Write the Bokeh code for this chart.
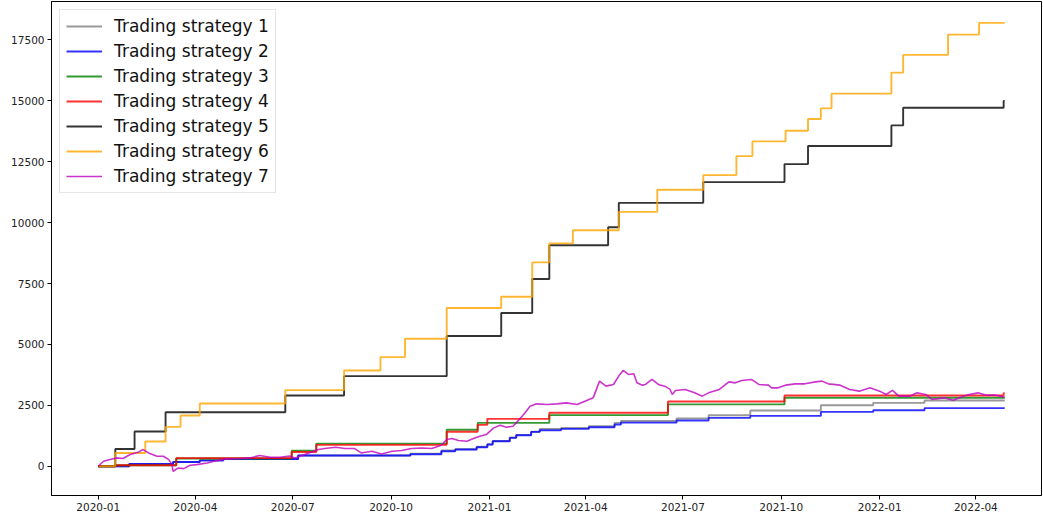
from datetime import datetime
import pandas as pd
from bokeh.plotting import figure
from bokeh.models import Range1d, FixedTicker, DatetimeTickFormatter, BasicTickFormatter
from bokeh.embed import file_html
from bokeh.resources import INLINE

labels = ["Trading strategy 1", "Trading strategy 2", "Trading strategy 3", "Trading strategy 4",
          "Trading strategy 5", "Trading strategy 6", "Trading strategy 7"]
colors = ["grey", "blue", "green", "red", "black", "orange", "#bf00bf"]

# Strategy 1 (grey), step series
s1_dates = ["2020-01-01", "2020-01-30", "2020-03-11", "2020-04-05", "2020-04-27", "2020-07-06", "2020-10-19",
            "2020-11-17", "2020-11-30", "2020-12-20", "2020-12-30", "2021-01-04", "2021-01-20", "2021-01-26",
            "2021-02-09", "2021-02-17", "2021-03-09", "2021-04-04", "2021-04-28", "2021-05-04", "2021-06-25",
            "2021-07-25", "2021-09-02", "2021-11-07", "2021-12-26", "2022-02-12", "2022-04-28"]
s1_vals = [0, 95, 177, 260, 300, 440, 520, 645, 700, 800, 900, 1040, 1180, 1290, 1420, 1535, 1576, 1640,
           1781, 1860, 1960, 2097, 2290, 2508, 2603, 2700, 2700]

# Strategy 2 (blue)
s2_dates = ["2020-01-01", "2020-01-30", "2020-03-11", "2020-04-05", "2020-04-27", "2020-07-06", "2020-10-19",
            "2020-11-17", "2020-11-30", "2020-12-20", "2020-12-30", "2021-01-04", "2021-01-20", "2021-01-26",
            "2021-02-09", "2021-02-17", "2021-03-09", "2021-04-04", "2021-04-28", "2021-05-04", "2021-06-25",
            "2021-07-25", "2021-09-02", "2021-11-07", "2021-12-26", "2022-02-12", "2022-04-28"]
s2_vals = [0, 95, 177, 233, 300, 440, 493, 617, 686, 781, 892, 1028, 1165, 1275, 1411, 1480, 1535, 1604,
           1713, 1790, 1880, 1986, 2068, 2233, 2302, 2385, 2385]

# Strategy 3 (green)
s3_dates = ["2020-01-01", "2020-01-17", "2020-03-14", "2020-06-30", "2020-07-23", "2020-11-22", "2020-12-21",
            "2021-02-26", "2021-06-17", "2021-10-04", "2022-04-28"]
s3_vals = [0, 40, 320, 640, 930, 1500, 1780, 2100, 2540, 2810, 2810]

# Strategy 4 (red)
s4_dates = ["2020-01-01", "2020-01-17", "2020-03-14", "2020-06-30", "2020-07-23", "2020-11-22", "2020-12-21",
            "2020-12-30", "2021-02-26", "2021-06-17", "2021-10-04", "2022-04-27", "2022-04-28"]
s4_vals = [0, 40, 335, 588, 880, 1420, 1700, 1946, 2200, 2660, 2906, 3000, 3000]

# Strategy 5 (black)
s5_dates = ["2020-01-01", "2020-01-17", "2020-02-04", "2020-03-04", "2020-06-24", "2020-08-18", "2020-11-22",
            "2021-01-12", "2021-02-10", "2021-02-26", "2021-04-22", "2021-05-02", "2021-07-20", "2021-10-04",
            "2021-10-26", "2022-01-12", "2022-01-23", "2022-04-27", "2022-04-28"]
s5_vals = [0, 712, 1427, 2220, 2906, 3700, 5345, 6290, 7690, 9075, 9815, 10814, 11665, 12405, 13146,
           13993, 14720, 14996, 14996]

# Strategy 6 (orange)
s6_dates = ["2020-01-01", "2020-01-17", "2020-02-14", "2020-03-04", "2020-03-18", "2020-04-05", "2020-06-24",
            "2020-08-18", "2020-09-21", "2020-10-14", "2020-11-22", "2021-01-12", "2021-02-10", "2021-02-26",
            "2021-03-20", "2021-05-02", "2021-06-07", "2021-07-20", "2021-08-20", "2021-09-04", "2021-10-05",
            "2021-10-26", "2021-11-07", "2021-11-17", "2022-01-12", "2022-01-23", "2022-03-06", "2022-04-04",
            "2022-04-28"]
s6_vals = [0, 547, 1014, 1617, 2083, 2577, 3125, 3933, 4482, 5234, 6500, 6960, 8370, 9150, 9690, 10444,
           11349, 11953, 12734, 13336, 13775, 14256, 14692, 15296, 16160, 16887, 17722, 18203, 18203]

# Strategy 7 (magenta), continuous series
s7_dates = ["2020-01-01", "2020-01-06", "2020-01-12", "2020-01-18", "2020-01-24", "2020-01-31", "2020-02-08",
            "2020-02-12", "2020-02-17", "2020-02-25", "2020-03-02", "2020-03-07", "2020-03-10", "2020-03-11",
            "2020-03-16", "2020-03-21", "2020-03-27", "2020-04-02", "2020-04-12", "2020-04-21", "2020-04-30",
            "2020-05-13", "2020-05-22", "2020-05-31", "2020-06-10", "2020-06-19", "2020-06-28", "2020-07-03",
            "2020-07-16", "2020-07-25", "2020-07-31", "2020-08-10", "2020-08-19", "2020-08-28", "2020-09-03",
            "2020-09-13", "2020-09-22", "2020-10-02", "2020-10-11", "2020-10-20", "2020-10-30", "2020-11-08",
            "2020-11-17", "2020-11-22", "2020-11-27", "2020-12-03", "2020-12-11", "2020-12-17", "2020-12-23",
            "2020-12-29", "2021-01-05", "2021-01-11", "2021-01-17", "2021-01-23", "2021-01-26", "2021-02-02",
            "2021-02-08", "2021-02-14", "2021-02-24", "2021-03-05", "2021-03-14", "2021-03-24", "2021-04-02",
            "2021-04-08", "2021-04-14", "2021-04-20", "2021-04-27", "2021-05-03", "2021-05-06", "2021-05-11",
            "2021-05-16", "2021-05-19", "2021-05-24", "2021-05-27", "2021-06-02", "2021-06-08", "2021-06-14",
            "2021-06-19", "2021-06-21", "2021-06-24", "2021-07-03", "2021-07-12", "2021-07-19", "2021-07-25",
            "2021-08-04", "2021-08-13", "2021-08-19", "2021-08-25", "2021-09-03", "2021-09-10", "2021-09-19",
            "2021-09-22", "2021-09-28", "2021-10-05", "2021-10-14", "2021-10-23", "2021-11-02", "2021-11-08",
            "2021-11-14", "2021-11-25", "2021-12-04", "2021-12-13", "2021-12-23", "2022-01-01", "2022-01-07",
            "2022-01-13", "2022-01-19", "2022-01-29", "2022-02-05", "2022-02-13", "2022-02-19", "2022-03-02",
            "2022-03-11", "2022-03-20", "2022-03-26", "2022-04-03", "2022-04-11", "2022-04-20", "2022-04-28"]
s7_vals = [0, 205, 275, 343, 316, 480, 589, 686, 548, 411, 411, 275, 68, -206, -68, -96, 41, 68, 137, 233,
           302, 316, 343, 439, 370, 370, 420, 343, 548, 686, 727, 781, 727, 727, 548, 617, 507, 617, 645, 727,
           753, 727, 863, 1097, 1138, 1056, 1028, 1138, 1234, 1302, 1576, 1686, 1604, 1645, 1781, 2126, 2467,
           2562, 2535, 2562, 2603, 2535, 2700, 2809, 3495, 3289, 3359, 3770, 3935, 3770, 3795, 3425, 3330,
           3359, 3565, 3359, 3289, 3154, 2948, 3113, 3154, 3014, 2878, 3014, 3154, 3466, 3425, 3524, 3565,
           3359, 3330, 3220, 3220, 3330, 3384, 3384, 3466, 3495, 3384, 3330, 3154, 3084, 3220, 3084, 2948,
           3113, 2878, 2878, 3014, 2948, 2742, 2809, 2714, 2878, 2948, 3014, 2919, 2919, 2837]

y_ticks = [0, 2500, 5000, 7500, 10000, 12500, 15000, 17500]
x_tick_dates = ["2020-01-01", "2020-04-01", "2020-07-01", "2020-10-01", "2021-01-01", "2021-04-01",
                "2021-07-01", "2021-10-01", "2022-01-01", "2022-04-01"]

p = figure(width=1043, height=519, x_axis_type="datetime", output_backend="svg", toolbar_location=None,
           x_range=Range1d(datetime(2019, 11, 18, 7), datetime(2022, 6, 1, 10)),
           y_range=Range1d(-1200, 19080),
           min_border_left=51, min_border_right=2, min_border_top=1, min_border_bottom=24)

step_series = [(s1_dates, s1_vals), (s2_dates, s2_vals), (s3_dates, s3_vals), (s4_dates, s4_vals),
               (s5_dates, s5_vals), (s6_dates, s6_vals)]
for i, (d, v) in enumerate(step_series):
    p.step(pd.to_datetime(d), v, mode="after", line_color=colors[i], line_alpha=0.8, line_width=1.9,
           legend_label=labels[i])
p.line(pd.to_datetime(s7_dates), s7_vals, line_color=colors[6], line_alpha=0.8, line_width=1.6,
       legend_label=labels[6])

p.grid.visible = False
p.outline_line_color = "black"
p.outline_line_width = 1
p.outline_line_alpha = 1
p.background_fill_color = "white"
p.border_fill_color = "white"

for ax in (p.xaxis[0], p.yaxis[0]):
    ax.major_tick_in = 0
    ax.major_tick_out = 4
    ax.minor_tick_in = 0
    ax.minor_tick_out = 0
    ax.axis_line_color = "black"
    ax.major_tick_line_color = "black"
    ax.major_label_text_font = "DejaVu Sans"
    ax.major_label_text_font_size = "10.5px"
    ax.major_label_text_color = "#222222"
    ax.major_label_standoff = 3

p.yaxis.ticker = FixedTicker(ticks=y_ticks)
p.yaxis.formatter = BasicTickFormatter(use_scientific=False)
p.xaxis.ticker = FixedTicker(ticks=[pd.Timestamp(d).value // 10**6 for d in x_tick_dates])
p.xaxis.formatter = DatetimeTickFormatter(years="%Y-%m", months="%Y-%m", days="%Y-%m", hours="%Y-%m")
p.xaxis.major_label_standoff = 3

lg = p.legend[0]
lg.location = "top_left"
lg.margin = 8
lg.padding = 6
lg.spacing = 5
lg.glyph_width = 36
lg.glyph_height = 20
lg.label_height = 20
lg.label_standoff = 12
lg.label_text_font = "DejaVu Sans"
lg.label_text_font_size = "17px"
lg.label_text_color = "#111111"
lg.border_line_color = "#cccccc"
lg.border_line_width = 1
lg.background_fill_alpha = 0.8

open("out.html", "w").write(file_html(p, INLINE))
